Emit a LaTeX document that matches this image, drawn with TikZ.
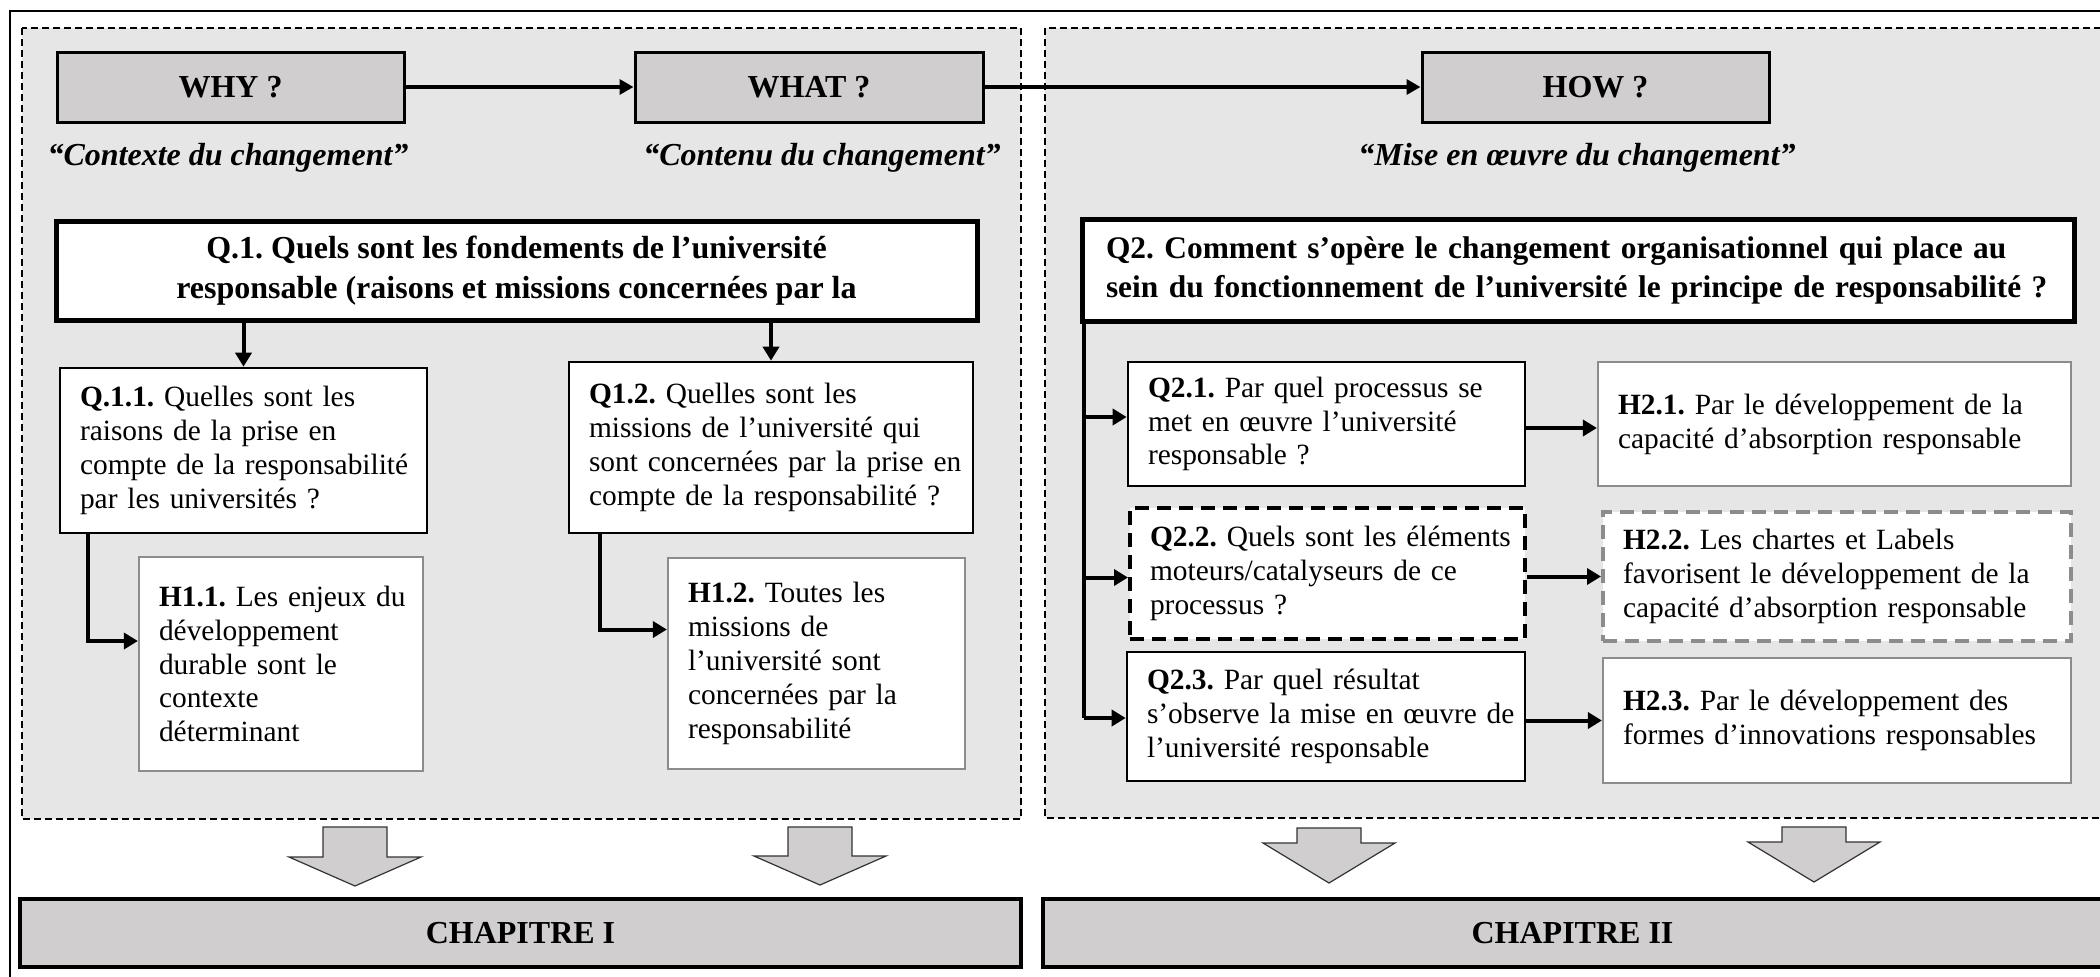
\documentclass[tikz,border=0pt]{standalone}
\usepackage{fontspec}
\setmainfont{Liberation Serif}
\usetikzlibrary{arrows.meta}
\definecolor{panelgray}{RGB}{231,230,230}
\definecolor{boxgray}{RGB}{208,206,206}
\definecolor{hgray}{RGB}{140,140,140}
\frenchspacing
\newcommand\bodyfnt{\fontsize{14.7}{16.9}\selectfont}
\newcommand\headfnt{\fontsize{16}{18.4}\selectfont\bfseries}
\newcommand\li[1]{\mbox{#1}}
\newcommand\downblock[4]{%
  \draw[blockarrow] (#1-32,#2) -- (#1+32,#2) -- (#1+32,#3) -- (#1+66,#3) -- (#1,#4) -- (#1-66,#3) -- (#1-32,#3) -- cycle;}
\begin{document}
\begin{tikzpicture}[x=0.5pt,y=-0.5pt,
  panel/.style={draw=black, fill=panelgray, line width=0.6pt, dash pattern=on 3.5pt off 2pt},
  hdr/.style={draw=black, fill=boxgray, line width=1.5pt, font=\headfnt, inner sep=0pt},
  chap/.style={draw=black, fill=boxgray, line width=2pt, font=\headfnt, inner sep=0pt},
  bigq/.style={draw=black, fill=white, line width=2.5pt, font=\fontsize{16}{20}\selectfont\bfseries, inner sep=0pt},
  lbl/.style={font=\fontsize{16}{18.4}\selectfont\bfseries\itshape, inner sep=0pt},
  qbox/.style={draw=black, fill=white, line width=1.3pt, font=\bodyfnt, align=left, inner xsep=10pt, inner ysep=0pt},
  hbox/.style={draw=hgray, fill=white, line width=1.1pt, font=\bodyfnt, align=left, inner xsep=10pt, inner ysep=0pt},
  qdash/.style={qbox, line width=2pt, dash pattern=on 7pt off 4pt},
  hdash/.style={hbox, line width=2pt, dash pattern=on 7pt off 4pt},
  arr/.style={line width=2pt, -{Triangle[length=7pt,width=8pt]}},
  thinarr/.style={line width=1.7pt, -{Triangle[length=7pt,width=7.5pt]}},
  conn/.style={line width=2pt},
  blockarrow/.style={draw=black!80, fill=boxgray, line width=0.6pt, line join=miter}
]
\useasboundingbox (0,0) rectangle (2100,976);
% outer frame
\draw[line width=1.2pt] (10,11) rectangle (2115,990);
% panels
\draw[panel] (22,28) rectangle (1021,819);
\draw[panel] (1045,28) rectangle (2103,818);

% headers
\node[hdr, minimum width=173.5pt, minimum height=35pt] (why) at (230.5,87) {WHY ?};
\node[hdr, minimum width=174pt, minimum height=35pt] (what) at (809,87) {WHAT ?};
\node[hdr, minimum width=173.5pt, minimum height=35pt] (how) at (1595.5,87) {HOW ?};
\draw[thinarr] (why) -- (what);
\draw[thinarr] (what) -- (how);

\node[lbl] (ctx) at (228,158) {“Contexte du changement”};
\node[lbl] (cnt) at (822,158) {“Contenu du changement”};
\node[lbl] (moe) at (1577,158) {“Mise en œuvre du changement”};

% main questions
\node[bigq, minimum width=460.5pt, minimum height=49.5pt, align=center] (q1) at (516.5,271)
  {Q.1. Quels sont les fondements de l’université\\responsable (raisons et missions concernées par la};
\node[bigq, minimum width=496pt, minimum height=51pt, align=left, text width=472pt, inner xsep=12pt,
      font=\fontsize{15.7}{19.5}\selectfont\bfseries] (q2) at (1578,270)
  {\li{Q2. Comment s’opère le changement organisationnel qui place au}\\\li{sein du fonctionnement de l’université le principe de responsabilité ?}};

% chapter I side
\node[qbox, minimum width=183.5pt, minimum height=82.5pt, text width=163.5pt] (q11) at (243.5,450.5)
  {\li{\textbf{Q.1.1.} Quelles sont les}\\\li{raisons de la prise en}\\\li{compte de la responsabilité}\\\li{par les universités ?}};
\node[qbox, minimum width=202pt, minimum height=85.5pt, text width=182pt] (q12) at (771,447.5)
  {\li{\textbf{Q1.2.} Quelles sont les}\\\li{missions de l’université qui}\\\li{sont concernées par la prise en}\\\li{compte de la responsabilité ?}};
\node[hbox, minimum width=142pt, minimum height=107pt, text width=122pt] (h11) at (281,664)
  {\li{\textbf{H1.1.} Les enjeux du}\\\li{développement}\\\li{durable sont le}\\\li{contexte}\\\li{déterminant}\\[10pt]};
\node[hbox, minimum width=148.5pt, minimum height=105.5pt, text width=128.5pt] (h12) at (816.5,663.5)
  {\li{\textbf{H1.2.} Toutes les}\\\li{missions de}\\\li{l’université sont}\\\li{concernées par la}\\\li{responsabilité}\\[10pt]};

\draw[arr] (q1.south -| q11.north) -- (q11.north);
\draw[arr] (q1.south -| q12.north) -- (q12.north);
\draw[arr] ([xshift=14.5pt]q11.south west) |- ([yshift=11.5pt]h11.west);
\draw[arr] ([xshift=16pt]q12.south west) |- ([yshift=17pt]h12.west);

% chapter II side
\node[qbox, minimum width=198.5pt, minimum height=62pt, text width=178.5pt] (q21) at (1326.5,424)
  {\li{\textbf{Q2.1.} Par quel processus se}\\\li{met en œuvre l’université}\\\li{responsable ?}};
\node[qdash, minimum width=197.5pt, minimum height=65.5pt, text width=177.5pt] (q22) at (1327.5,573.5)
  {\li{\textbf{Q2.2.} Quels sont les éléments}\\\li{moteurs/catalyseurs de ce}\\\li{processus ?}};
\node[qbox, minimum width=199pt, minimum height=64.5pt, text width=179pt] (q23) at (1326,716.5)
  {\li{\textbf{Q2.3.} Par quel résultat}\\\li{s’observe la mise en œuvre de}\\\li{l’université responsable}};
\node[hbox, minimum width=236.5pt, minimum height=62pt, text width=216.5pt] (h21) at (1834.5,424)
  {\li{\textbf{H2.1.} Par le développement de la}\\\li{capacité d’absorption responsable}};
\node[hdash, minimum width=234pt, minimum height=64.5pt, text width=214pt] (h22) at (1837,576.5)
  {\li{\textbf{H2.2.} Les chartes et Labels}\\\li{favorisent le développement de la}\\\li{capacité d’absorption responsable}};
\node[hbox, minimum width=234pt, minimum height=62.5pt, text width=214pt] (h23) at (1837,720.5)
  {\li{\textbf{H2.3.} Par le développement des}\\\li{formes d’innovations responsables}};

\coordinate (trunk) at ([xshift=2pt]q2.south west);
\coordinate (e21) at ([yshift=3.5pt]q21.west);
\coordinate (e22) at ([yshift=-2pt]q22.west);
\coordinate (e23) at ([yshift=-0.75pt]q23.west);
\draw[conn] (trunk) -- (trunk |- e23);
\draw[arr] (trunk |- e21) -- (e21);
\draw[arr] (trunk |- e22) -- (e22);
\draw[arr] (trunk |- e23) -- (e23);
\draw[arr] ([yshift=-2pt]q21.east) -- ([yshift=-2pt]q21.east -| h21.west);
\draw[arr] (q22.east |- h22.west) -- (h22.west);
\draw[arr] (q23.east |- h23.west) -- (h23.west);

% block arrows
\downblock{355}{827}{857}{886}
\downblock{820}{827}{856}{885}
\downblock{1329}{828}{843}{883}
\downblock{1814}{827}{842}{882}

% chapters
\node[chap, minimum width=500.5pt, minimum height=34pt] (ch1) at (520.5,933) {CHAPITRE I};
\node[chap, minimum width=529.5pt, minimum height=34pt] (ch2) at (1572.5,933) {CHAPITRE II};
\end{tikzpicture}
\end{document}
